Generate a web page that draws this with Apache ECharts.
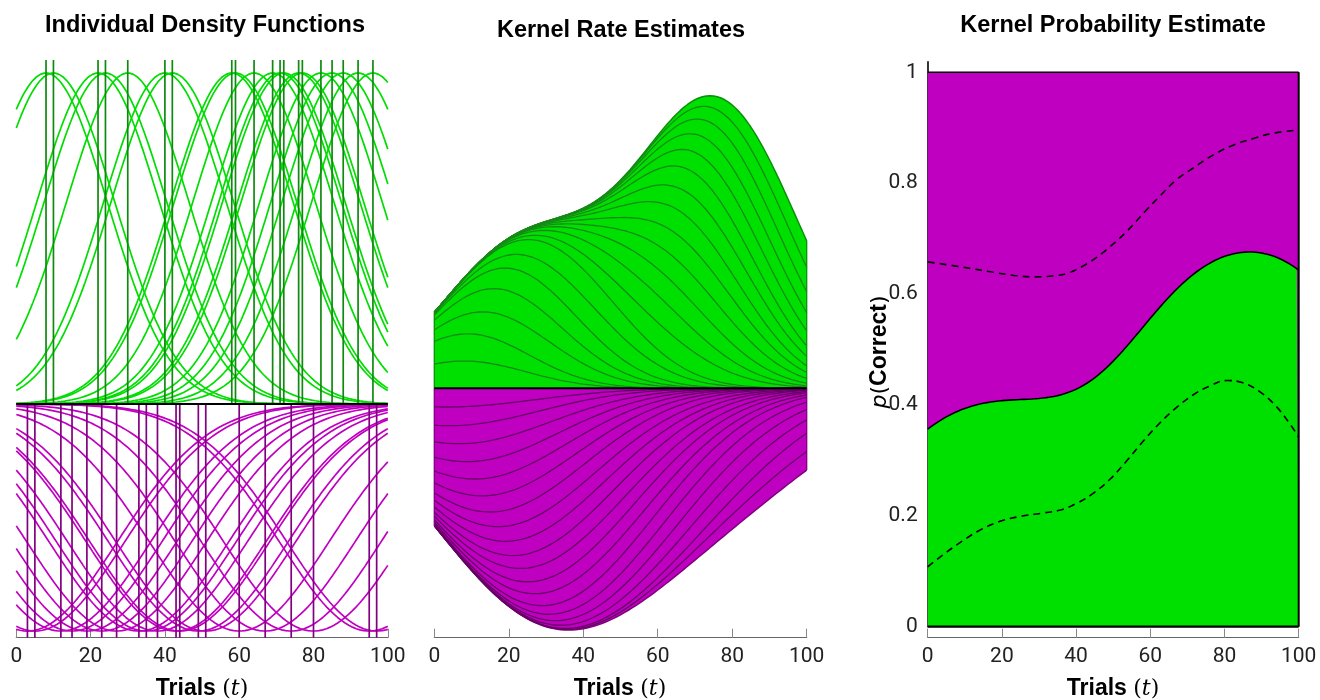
<!DOCTYPE html>
<html><head><meta charset="utf-8">
<script src="https://cdn.jsdelivr.net/npm/echarts@6/dist/echarts.min.js"></script>
<style>html,body{margin:0;padding:0;background:#fff}#c{width:1320px;height:700px}</style>
</head><body><div id="c"></div>
<script>
// ---- data ----
const correctTrials   = [8, 10, 22, 24, 30, 40, 42, 58, 59, 64, 69, 71, 72, 76, 77, 82, 85, 88, 92, 96];
const incorrectTrials = [3, 5, 12, 15, 19, 23, 27, 33, 35, 38, 43, 44, 49, 51, 60, 67, 74, 80, 95, 97];
const bandwidthCorrect = 16.6;
const bandwidthIncorrect = 24.2;
const trialTicks = [0, 20, 40, 60, 80, 100];
const probTicks = [0, 0.2, 0.4, 0.6, 0.8, 1];
const upperBound = [[0,0.658],[9,0.649],[18,0.639],[24,0.633],[29,0.631],[34,0.633],[37.5,0.637],[43,0.655],[48,0.679],[53.5,0.712],[59,0.752],[62.5,0.776],[67,0.806],[71.5,0.827],[77,0.851],[82.5,0.869],[88,0.881],[93,0.890],[100,0.896]];
const lowerBound = [[0,0.108],[4,0.129],[9,0.153],[14,0.174],[19.5,0.190],[25,0.199],[31,0.205],[35.5,0.210],[40,0.222],[44.5,0.240],[49,0.265],[53.5,0.298],[58,0.334],[62.5,0.367],[67,0.395],[71.5,0.418],[76,0.434],[80.5,0.444],[85,0.440],[89.5,0.424],[94,0.397],[97.5,0.367],[100,0.342]];

// ---- kernel computations ----
const tGrid = []; for (let i = 0; i <= 200; i++) tGrid.push(i * 0.5);
const SQ2PI = Math.sqrt(2 * Math.PI);
function kern(t, c, s) { const z = (t - c) / s; return Math.exp(-0.5 * z * z) / (s * SQ2PI); }

const GREEN = '#00e000', GREEN_LINE = '#00dd00', GREEN_DARK = '#0f8a0f';
const MAG = '#c000c0';

// panel 1 scale
const p1Zero = 404, p1Peak = 73, p1Top = 60, p1Bottom = 637.7;
const peakG = kern(0, 0, bandwidthCorrect);
const s1 = (p1Zero - p1Peak) / peakG;
const y1max = (p1Zero - p1Top) / s1, y1min = -(p1Bottom - p1Zero) / s1;

// panel 2 stacks
const cumG = [], cumM = [];
let runG = tGrid.map(() => 0), runM = tGrid.map(() => 0);
correctTrials.forEach(c => { runG = runG.map((v, i) => v + kern(tGrid[i], c, bandwidthCorrect)); cumG.push(runG.slice()); });
incorrectTrials.forEach(c => { runM = runM.map((v, i) => v + kern(tGrid[i], c, bandwidthIncorrect)); cumM.push(runM.slice()); });
const totG = cumG[cumG.length - 1], totM = cumM[cumM.length - 1];
const maxG = Math.max(...totG);
const p2Zero = 388.3, p2Peak = 95.7, p2Top = 60, p2Bottom = 637.7;
const s2 = (p2Zero - p2Peak) / maxG;
const y2max = (p2Zero - p2Top) / s2, y2min = -(p2Bottom - p2Zero) / s2;

// panel 3 probability
const pCorrect = tGrid.map((t, i) => [t, totG[i] / (totG[i] + totM[i])]);

const series = [];
const base = { type: 'line', symbol: 'none', silent: true, animation: false };
// Panel 1
correctTrials.forEach(c => series.push(Object.assign({}, base, { xAxisIndex: 0, yAxisIndex: 0,
  data: tGrid.map(t => [t, kern(t, c, bandwidthCorrect)]), lineStyle: { color: GREEN_LINE, width: 1.7 } })));
incorrectTrials.forEach(c => series.push(Object.assign({}, base, { xAxisIndex: 0, yAxisIndex: 0,
  data: tGrid.map(t => [t, -kern(t, c, bandwidthIncorrect)]), lineStyle: { color: MAG, width: 1.7 } })));
correctTrials.forEach(c => series.push(Object.assign({}, base, { xAxisIndex: 0, yAxisIndex: 0,
  data: [[c, 0], [c, y1max]], lineStyle: { color: GREEN_DARK, width: 1.7 } })));
incorrectTrials.forEach(c => series.push(Object.assign({}, base, { xAxisIndex: 0, yAxisIndex: 0,
  data: [[c, 0], [c, y1min]], lineStyle: { color: '#800080', width: 1.7 } })));
series.push(Object.assign({}, base, { xAxisIndex: 0, yAxisIndex: 0, clip: false,
  data: [[0, 0], [100, 0]], lineStyle: { color: '#000', width: 2 } }));

// Panel 2
series.push(Object.assign({}, base, { xAxisIndex: 1, yAxisIndex: 1,
  data: tGrid.map((t, i) => [t, totG[i]]), areaStyle: { color: GREEN, opacity: 1 }, lineStyle: { color: '#0a900a', width: 1.5 } }));
series.push(Object.assign({}, base, { xAxisIndex: 1, yAxisIndex: 1,
  data: tGrid.map((t, i) => [t, -totM[i]]), areaStyle: { color: MAG, opacity: 1 }, lineStyle: { color: '#800080', width: 1.5 } }));
cumG.slice(0, -1).forEach(arr => series.push(Object.assign({}, base, { xAxisIndex: 1, yAxisIndex: 1,
  data: tGrid.map((t, i) => [t, arr[i]]), lineStyle: { color: '#168a16', width: 1.3 } })));
cumM.slice(0, -1).forEach(arr => series.push(Object.assign({}, base, { xAxisIndex: 1, yAxisIndex: 1,
  data: tGrid.map((t, i) => [t, -arr[i]]), lineStyle: { color: '#660066', width: 1.3 } })));
const last = tGrid.length - 1;
[[0, 0], [100, last]].forEach(([t, i]) => {
  series.push(Object.assign({}, base, { xAxisIndex: 1, yAxisIndex: 1, clip: false,
    data: [[t, 0], [t, totG[i]]], lineStyle: { color: '#0a900a', width: 1.3 } }));
  series.push(Object.assign({}, base, { xAxisIndex: 1, yAxisIndex: 1, clip: false,
    data: [[t, 0], [t, -totM[i]]], lineStyle: { color: '#800080', width: 1.3 } }));
});
series.push(Object.assign({}, base, { xAxisIndex: 1, yAxisIndex: 1, clip: false,
  data: [[0, 0], [100, 0]], lineStyle: { color: '#000', width: 2 } }));

// Panel 3
series.push(Object.assign({}, base, { xAxisIndex: 2, yAxisIndex: 2,
  data: tGrid.map(t => [t, 1]), areaStyle: { color: MAG, opacity: 1 }, lineStyle: { color: '#000', width: 1.6 } }));
series.push(Object.assign({}, base, { xAxisIndex: 2, yAxisIndex: 2,
  data: pCorrect, areaStyle: { color: GREEN, opacity: 1 }, lineStyle: { color: '#000', width: 1.6 } }));
series.push(Object.assign({}, base, { xAxisIndex: 2, yAxisIndex: 2, clip: false,
  data: [[0, 0], [100, 0]], lineStyle: { color: '#000', width: 2.2 } }));
series.push(Object.assign({}, base, { xAxisIndex: 2, yAxisIndex: 2, clip: false,
  data: [[100, 0], [100, 1]], lineStyle: { color: '#000', width: 2 } }));
series.push(Object.assign({}, base, { xAxisIndex: 2, yAxisIndex: 2, smooth: 0.4,
  data: upperBound, lineStyle: { color: '#000', width: 1.6, type: [7, 5] } }));
series.push(Object.assign({}, base, { xAxisIndex: 2, yAxisIndex: 2, smooth: 0.4,
  data: lowerBound, lineStyle: { color: '#000', width: 1.6, type: [7, 5] } }));

const tickFont = { fontFamily: 'Roboto', fontSize: 21, color: '#222' };
function xAxisCfg(gi, offset) {
  return { gridIndex: gi, type: 'value', min: 0, max: 100, interval: 20, offset: offset || 0,
    axisLine: { show: true, onZero: false, lineStyle: { color: '#666', width: 1.2 } },
    axisTick: { show: true, inside: true, length: 9, lineStyle: { color: '#888', width: 1 } },
    axisLabel: Object.assign({ margin: 9, customValues: trialTicks }, tickFont),
    splitLine: { show: false } };
}
const TITLE_FONT = "'Liberation Sans', Arial, Helvetica, sans-serif";
function titleText(txt, x, y) {
  return { type: 'text', silent: true, x: x, y: y, style: { text: txt, fontFamily: TITLE_FONT, fontWeight: 'bold', fontSize: 23.5, fill: '#000', textAlign: 'center', textVerticalAlign: 'middle', align: 'center', verticalAlign: 'middle' } };
}
const option = {
  animation: false,
  backgroundColor: '#fff',
  grid: [
    { left: 16.3, width: 371.5, top: p1Top, height: p1Bottom - p1Top, outerBoundsMode: 'none', containLabel: false },
    { left: 434.3, width: 372.4, top: p2Top, height: p2Bottom - p2Top, outerBoundsMode: 'none', containLabel: false },
    { left: 927.7, width: 371, top: 61.7, height: 565, outerBoundsMode: 'none', containLabel: false }
  ],
  xAxis: [xAxisCfg(0), xAxisCfg(1), xAxisCfg(2, 11)],
  yAxis: [
    { gridIndex: 0, type: 'value', min: y1min, max: y1max, show: false },
    { gridIndex: 1, type: 'value', min: y2min, max: y2max, show: false },
    { gridIndex: 2, type: 'value', min: 0, max: 565 / 554.4, interval: 0.2,
      axisLine: { show: true, onZero: false, lineStyle: { color: '#000', width: 1.6 } },
      axisTick: { show: false }, splitLine: { show: false },
      axisLabel: Object.assign({ margin: 10, customValues: probTicks,
        formatter: v => String(Math.round(v * 10) / 10) }, tickFont) }
  ],
  series: series,
  graphic: [
    titleText('Individual Density Functions', 205, 26),
    titleText('Kernel Rate Estimates', 621, 31),
    titleText('Kernel Probability Estimate', 1113, 26)
  ].concat([202, 620, 1113].map(cx => ({
    type: 'text', silent: true, x: cx, y: 689,
    style: { text: '{b|Trials} {n|(}{i|t}{n|)}', textAlign: 'center', textVerticalAlign: 'middle', align: 'center', verticalAlign: 'middle',
      fill: '#000', fontSize: 23,
      rich: { b: { fontFamily: TITLE_FONT, fontWeight: 'bold', fontSize: 23, fill: '#000' },
              n: { fontFamily: 'DejaVu Serif', fontSize: 22, fill: '#000' },
              i: { fontFamily: 'DejaVu Serif', fontStyle: 'italic', fontSize: 22, fill: '#000' } } }
  }))).concat([{
    type: 'text', silent: true, x: 880, y: 352, rotation: Math.PI / 2,
    style: { text: '{i|p}{n|(}{b|Correct}{n|)}', textAlign: 'center', textVerticalAlign: 'middle', align: 'center', verticalAlign: 'middle',
      fill: '#000', fontSize: 23,
      rich: { b: { fontFamily: TITLE_FONT, fontWeight: 'bold', fontSize: 23, fill: '#000' },
              n: { fontFamily: 'DejaVu Sans', fontWeight: 'normal', fontSize: 22, fill: '#000' },
              i: { fontFamily: 'DejaVu Sans', fontStyle: 'italic', fontSize: 22, fill: '#000' } } }
  }])
};
const chart = echarts.init(document.getElementById('c'), null, { renderer: 'canvas' });
chart.setOption(option);
</script>
</body></html>
